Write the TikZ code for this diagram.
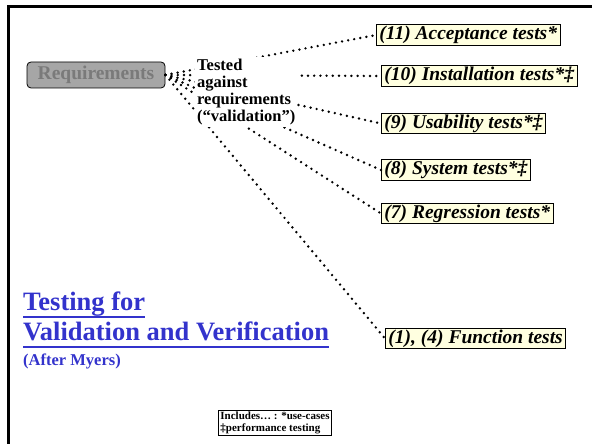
\documentclass[tikz,border=0pt]{standalone}
\usepackage{fontspec}
\setmainfont{Liberation Serif}
\definecolor{testfill}{HTML}{FFFFE0}
\definecolor{reqfill}{HTML}{A6A6A6}
\definecolor{reqtext}{HTML}{7A7A7A}
\definecolor{titleblue}{HTML}{3333CC}

\begin{document}
\begin{tikzpicture}[x=1pt,y=1pt,
    testbox/.style={draw,fill=testfill,line width=0.8pt,inner xsep=3pt,inner ysep=1.5pt,
      anchor=west,font=\fontsize{19.5}{20}\selectfont\bfseries\itshape},
    dots/.style={line width=2.7pt,line cap=round,dash pattern=on 0pt off 6.2pt},
    titletext/.style={anchor=base west,inner sep=0pt,text=titleblue},
    underbar/.style={titleblue,line width=2pt}]
    \useasboundingbox (0,0) rectangle (592,444);
    % frame
    \draw [line width=3pt] (8.5,0) -- (8.5,437.5) -- (592,437.5);
    \path (96,369) node[draw,line width=0.8pt,rounded corners=4pt,fill=reqfill,text=reqtext,
      minimum width=138pt,minimum height=26pt,font=\fontsize{19.5}{20}\selectfont\bfseries] (req) {Requirements};
    \path (376,409) node[testbox] (acc) {(11) Acceptance tests*};
    \path (381,368) node[testbox] (inst) {(10) Installation tests*‡};
    \path (381,320.5) node[testbox] (usab) {(9) Usability tests*‡};
    \path (381,274) node[testbox] (sys) {(8) System tests*‡};
    \path (381,230.5) node[testbox] (regr) {(7) Regression tests*};
    \path (385,105.5) node[testbox] (func) {(1), (4) Function tests};
    \draw [dots] (req.east) -- (acc.west);
    \draw [dots] (req.east) -- (inst.west);
    \draw [dots] (req.east) -- (usab.west);
    \draw [dots] (req.east) -- (sys.west);
    \draw [dots] (req.east) -- (regr.west);
    \draw [dots] (req.east) -- (func.west);
    \path (195,387) node[anchor=north west,fill=white,inner sep=2pt,align=left,
      font=\fontsize{16.5}{16.8}\selectfont\bfseries] (against) {Tested\\against\\requirements\\(“validation”)};
    % title
    \path (23,133) node[titletext,font=\fontsize{26.5}{28}\selectfont\bfseries] (title1) {Testing for};
    \path (23,103) node[titletext,font=\fontsize{26.5}{28}\selectfont\bfseries] (title2) {Validation and Verification};
    \path (23,78) node[titletext,font=\fontsize{16.5}{17}\selectfont\bfseries] (myers) {(After Myers)};
    \draw [underbar] ([yshift=-6pt]title1.base west) -- ([yshift=-6pt]title1.base east);
    \draw [underbar] ([yshift=-6pt]title2.base west) -- ([yshift=-6pt]title2.base east);
    \path (275,21) node[draw,line width=0.8pt,inner sep=2pt,align=left,
      font=\fontsize{11}{11.5}\selectfont\bfseries] (incl) {Includes… : *use-cases\\‡performance testing};
\end{tikzpicture}
\end{document}
